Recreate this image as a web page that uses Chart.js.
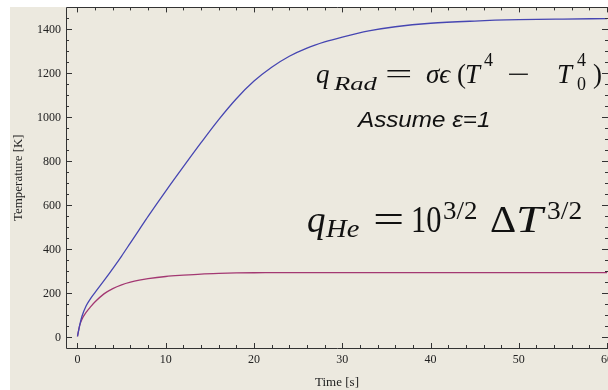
<!DOCTYPE html>
<html lang="en">
<head>
    <meta charset="UTF-8">
    <title>Temperature vs Time</title>
    <script src="https://cdn.jsdelivr.net/npm/chart.js"></script>
    <style>
        body { margin: 0; background: #fff; overflow: hidden; }
        #tempChart { position: absolute; left: 0; top: 0; }
    </style>
</head>
<body>
    <canvas id="tempChart" width="620" height="390"></canvas>

    <script>
        // time [s]
        const time = [0, 0.25, 0.5, 1, 1.5, 2, 3, 4, 5, 6, 7, 8, 10, 12, 14, 16, 18, 20, 22, 24, 26, 28, 30, 33, 36, 40, 45, 50, 55, 60];
        // radiation case, T [K]
        const tempRad = [5, 55, 95, 145, 178, 205, 258, 313, 370, 430, 490, 550, 665, 776, 885, 990, 1085, 1165, 1228, 1278, 1315, 1343, 1365, 1393, 1412, 1428, 1438, 1444, 1447, 1449];
        // helium case, T [K]
        const tempHe = [5, 55, 82, 115, 140, 162, 198, 222, 239, 251, 260, 267, 277, 283, 288, 291, 293, 294, 294.5, 295, 295, 295, 295, 295, 295, 295, 295, 295, 295, 295];

        const xTicks = [0, 10, 20, 30, 40, 50, 60];
        const yTicks = [0, 200, 400, 600, 800, 1000, 1200, 1400];

        const serif = '"Liberation Serif", "Times New Roman", serif';
        const beige = '#ece9df';

        // page background + the beige panel
        const panel = {
            id: 'panel',
            beforeDraw(chart) {
                const c = chart.ctx;
                c.save();
                c.fillStyle = '#fff';
                c.fillRect(0, 0, chart.width, chart.height);
                c.fillStyle = beige;
                c.fillRect(10, Math.round(chart.chartArea.top), chart.width - 10, chart.height);
                c.restore();
            }
        };

        // frame with inward ticks (mathematica style)
        const frame = {
            id: 'frame',
            afterDatasetsDraw(chart) {
                const c = chart.ctx;
                const a = chart.chartArea;
                const xs = chart.scales.x, ys = chart.scales.y;
                c.save();
                c.strokeStyle = '#333';
                c.lineWidth = 1;
                c.beginPath();
                c.rect(Math.round(a.left) + 0.5, Math.round(a.top) + 0.5, a.right - a.left, Math.round(a.bottom - a.top));
                c.stroke();

                c.beginPath();
                for (let v = 0; v <= 60; v += 2) {
                    const px = Math.round(xs.getPixelForValue(v)) + 0.5;
                    const len = v % 10 === 0 ? 5 : 3;
                    c.moveTo(px, a.bottom); c.lineTo(px, a.bottom - len);
                    c.moveTo(px, a.top); c.lineTo(px, a.top + len);
                }
                for (let v = 0; v <= 1450; v += 50) {
                    const py = Math.round(ys.getPixelForValue(v)) + 0.5;
                    const len = v % 200 === 0 ? 6 : 3;
                    c.moveTo(a.left, py); c.lineTo(a.left + len, py);
                    c.moveTo(a.right, py); c.lineTo(a.right - len, py);
                }
                c.stroke();
                c.restore();
            }
        };

        // formulas and note, drawn as text pieces
        function piece(c, text, x, y, size, style, sx, family) {
            c.save();
            c.font = (style || '') + ' ' + size + 'px ' + (family || serif);
            c.translate(x, y);
            c.scale(sx || 1, 1);
            c.fillText(text, 0, 0);
            c.restore();
        }

        const notes = {
            id: 'notes',
            afterDraw(chart) {
                const c = chart.ctx;
                c.save();
                c.fillStyle = '#111';
                c.textBaseline = 'alphabetic';

                // q_Rad = σϵ(T^4 - T_0^4)
                piece(c, 'q', 316, 83, 27, 'italic');
                piece(c, 'Rad', 334, 90, 19, 'italic', 1.4);
                piece(c, '=', 385, 83, 27, '', 1.8);
                piece(c, 'σϵ', 426, 83, 27, 'italic');
                piece(c, '(', 457, 83, 27, '');
                piece(c, 'T', 465, 83, 27, 'italic');
                piece(c, '4', 484, 66, 18, '');
                piece(c, '−', 507, 83, 27, '', 1.5);
                piece(c, 'T', 557, 83, 27, 'italic');
                piece(c, '4', 577, 66, 18, '');
                piece(c, '0', 577, 90, 18, '');
                piece(c, ')', 593, 83, 27, '');

                piece(c, 'Assume ε=1', 358, 127, 22, 'italic', 1.1, '"Liberation Sans", Arial, sans-serif');

                // q_He = 10^{3/2} ΔT^{3/2}
                piece(c, 'q', 307, 232, 37, 'italic');
                piece(c, 'He', 326, 237, 26, 'italic', 1.1);
                piece(c, '=', 373, 232, 37, '', 1.5);
                piece(c, '10', 411, 232, 37, '', 0.82);
                piece(c, '3/2', 443, 219, 25, '', 1.08);
                piece(c, 'Δ', 490, 232, 37, '', 1.1);
                piece(c, 'T', 516, 232, 37, 'italic', 1.3);
                piece(c, '3/2', 547, 219, 25, '', 1.1);
                c.restore();
            }
        };

        const ctx = document.getElementById('tempChart').getContext('2d');
        const tempChart = new Chart(ctx, {
            type: 'line',
            data: {
                datasets: [
                    {
                        label: 'Radiation',
                        data: time.map((t, i) => ({ x: t, y: tempRad[i] })),
                        borderColor: '#4646b2',
                        borderWidth: 1.3,
                        pointRadius: 0,
                        cubicInterpolationMode: 'monotone'
                    },
                    {
                        label: 'Helium',
                        data: time.map((t, i) => ({ x: t, y: tempHe[i] })),
                        borderColor: '#a33872',
                        borderWidth: 1.3,
                        pointRadius: 0,
                        cubicInterpolationMode: 'monotone'
                    }
                ]
            },
            options: {
                responsive: false,
                animation: false,
                events: [],
                layout: { padding: { left: 10, top: 7, right: 12, bottom: 0 } },
                plugins: {
                    legend: { display: false },
                    tooltip: { enabled: false }
                },
                scales: {
                    x: {
                        type: 'linear',
                        min: -1.3,
                        max: 60.1,
                        grid: { display: false, drawTicks: false },
                        border: { display: false },
                        afterBuildTicks: s => { s.ticks = xTicks.map(v => ({ value: v })); },
                        afterFit: s => { s.height = 42; },
                        ticks: {
                            color: '#222',
                            font: { family: serif, size: 12 },
                            padding: 5,
                            maxRotation: 0,
                            callback: v => String(v)
                        },
                        title: {
                            display: true,
                            text: 'Time [s]',
                            color: '#222',
                            font: { family: serif, size: 13 },
                            padding: { top: 0, bottom: 0 }
                        }
                    },
                    y: {
                        min: -48,
                        max: 1500,
                        grid: { display: false, drawTicks: false },
                        border: { display: false },
                        afterBuildTicks: s => { s.ticks = yTicks.map(v => ({ value: v })); },
                        afterFit: s => { s.width = 56; },
                        ticks: {
                            color: '#222',
                            font: { family: serif, size: 12, lineHeight: 0.4 },
                            padding: 5,
                            callback: v => String(v)
                        },
                        title: {
                            display: true,
                            text: 'Temperature [K]',
                            color: '#222',
                            font: { family: serif, size: 13 },
                            padding: { top: 1, bottom: 0 }
                        }
                    }
                }
            },
            plugins: [panel, frame, notes]
        });
    </script>
</body>
</html>
